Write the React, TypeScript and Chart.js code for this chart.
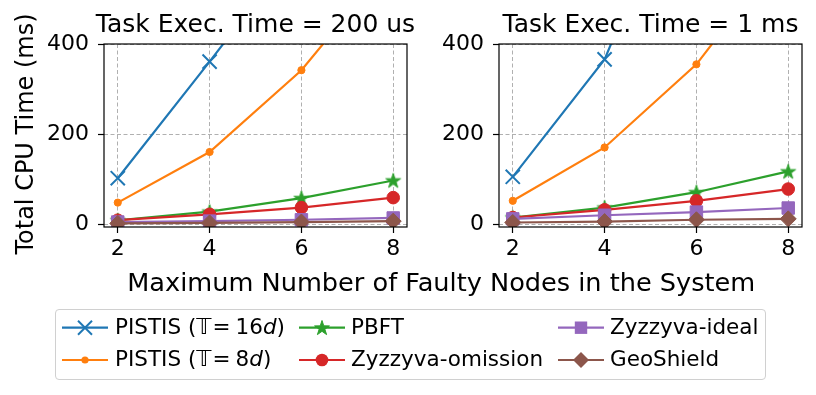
import React, { useEffect, useRef } from 'react';
import { Chart, registerables } from 'chart.js';

Chart.register(...registerables);

// ---------- data ----------
const xValues = [2, 4, 6, 8];
const xTicks = [2, 4, 6, 8];
const yTicks = [0, 200, 400];
const titles = ['Task Exec. Time = 200 us', 'Task Exec. Time = 1 ms'];
const xLabel = 'Maximum Number of Faulty Nodes in the System';
const yLabel = 'Total CPU Time (ms)';
const seriesNames = ['PISTIS (T=16d)', 'PISTIS (T=8d)', 'PBFT', 'Zyzzyva-omission', 'Zyzzyva-ideal', 'GeoShield'];

// Task exec. time = 200 us
const pistis16_200us = [103, 361, 625, 1000];
const pistis8_200us = [49, 161, 342, 588];
const pbft_200us = [10, 29, 59, 98];
const zyzOmission_200us = [10, 23, 38, 60];
const zyzIdeal_200us = [6, 8, 11, 15];
const geoShield_200us = [3, 4, 6, 8];

// Task exec. time = 1 ms
const pistis16_1ms = [106, 366, 850, 1400];
const pistis8_1ms = [53, 171, 355, 619];
const pbft_1ms = [16, 38, 72, 118];
const zyzOmission_1ms = [16, 33, 53, 79];
const zyzIdeal_1ms = [13, 21, 28, 37];
const geoShield_1ms = [5, 7, 11, 13];

const colors = ['#1f77b4', '#ff7f0e', '#2ca02c', '#d62728', '#9467bd', '#8c564b'];

const FONT = "'DejaVu Sans', sans-serif";

function starPoints(cx: number, cy: number, R: number, r: number): [number, number][] {
  const pts: [number, number][] = [];
  for (let i = 0; i < 10; i++) {
    const ang = -Math.PI / 2 + (i * Math.PI) / 5;
    const rad = i % 2 === 0 ? R : r;
    pts.push([cx + rad * Math.cos(ang), cy + rad * Math.sin(ang)]);
  }
  return pts;
}

function makeStar(color: string): HTMLCanvasElement {
  const c = document.createElement('canvas');
  c.width = 18;
  c.height = 18;
  const ctx = c.getContext('2d')!;
  const pts = starPoints(9, 9.6, 7.8, 3.0);
  ctx.beginPath();
  pts.forEach(([x, y], i) => (i === 0 ? ctx.moveTo(x, y) : ctx.lineTo(x, y)));
  ctx.closePath();
  ctx.fillStyle = color;
  ctx.strokeStyle = color;
  ctx.lineWidth = 1;
  ctx.fill();
  ctx.stroke();
  return c;
}

const framePlugin = {
  id: 'frame',
  afterDatasetsDraw(chart: any) {
    const { ctx, chartArea: a } = chart;
    ctx.save();
    ctx.strokeStyle = '#000';
    ctx.lineWidth = 1.2;
    ctx.strokeRect(a.left, a.top, a.right - a.left, a.bottom - a.top);
    ctx.restore();
  },
};

function buildDatasets(series: number[][], star: HTMLCanvasElement) {
  const styles: any[] = ['crossRot', 'circle', star, 'circle', 'rect', 'rectRot'];
  const radii = [10, 3.6, 8, 6.3, 8.8, 8];
  const bw = [2, 1, 1, 1, 1, 1];
  return series.map((vals, i) => ({
    label: seriesNames[i],
    data: xValues.map((x, j) => ({ x, y: vals[j] })),
    borderColor: colors[i],
    backgroundColor: colors[i],
    borderWidth: 2.2,
    pointStyle: styles[i],
    pointRadius: radii[i],
    pointBorderColor: colors[i],
    pointBackgroundColor: colors[i],
    pointBorderWidth: bw[i],
    clip: 0,
    order: 10 - i,
    tension: 0,
  }));
}

function buildOptions(yAxisWidth: number, padRight: number): any {
  return {
    responsive: false,
    animation: false,
    events: [],
    layout: { padding: { top: 44, right: padRight, left: 0, bottom: 0 } },
    plugins: { legend: { display: false }, tooltip: { enabled: false }, title: { display: false } },
    scales: {
      x: {
        type: 'linear',
        min: 1.7,
        max: 8.3,
        afterBuildTicks: (s: any) => {
          s.ticks = xTicks.map((v) => ({ value: v }));
        },
        afterFit: (s: any) => {
          s.height = 73;
        },
        ticks: {
          color: '#000',
          font: { family: FONT, size: 22 },
          padding: 3,
          maxRotation: 0,
          autoSkip: false,
          callback: (v: any) => String(v),
        },
        grid: {
          color: '#b0b0b0',
          lineWidth: 1,
          drawTicks: true,
          tickLength: 6,
          tickColor: '#000',
          tickWidth: 1.2,
          tickBorderDash: [],
        },
        border: { display: false, dash: [4, 2.5] },
      },
      y: {
        type: 'linear',
        min: -5,
        max: 400,
        afterBuildTicks: (s: any) => {
          s.ticks = yTicks.map((v) => ({ value: v }));
        },
        afterFit: (s: any) => {
          s.width = yAxisWidth;
        },
        ticks: {
          color: '#000',
          font: { family: FONT, size: 22 },
          padding: 9,
          autoSkip: false,
          callback: (v: any) => String(v),
        },
        grid: {
          color: '#b0b0b0',
          lineWidth: 1,
          drawTicks: true,
          tickLength: 6,
          tickColor: '#000',
          tickWidth: 1.2,
          tickBorderDash: [],
        },
        border: { display: false, dash: [4, 2.5] },
      },
    },
  };
}

type LegendEntry = { name: React.ReactNode; col: number; row: number; idx: number };

const legendCols = [
  { h0: 62, h1: 108, text: 115 },
  { h0: 299, h1: 345, text: 351 },
  { h0: 558, h1: 604, text: 610 },
];
const legendRows = [327.7, 360];
const legendBaselines = [334, 366.3];

function Marker({ idx, cx, cy }: { idx: number; cx: number; cy: number }) {
  const c = colors[idx];
  switch (idx) {
    case 0:
      return (
        <g stroke={c} strokeWidth={2}>
          <line x1={cx - 7} y1={cy - 7} x2={cx + 7} y2={cy + 7} />
          <line x1={cx - 7} y1={cy + 7} x2={cx + 7} y2={cy - 7} />
        </g>
      );
    case 1:
      return <circle cx={cx} cy={cy} r={3.6} fill={c} />;
    case 2: {
      const pts = starPoints(cx, cy + 0.6, 7.8, 3.0).map((p) => p.join(',')).join(' ');
      return <polygon points={pts} fill={c} stroke={c} strokeWidth={1} />;
    }
    case 3:
      return <circle cx={cx} cy={cy} r={6.3} fill={c} />;
    case 4:
      return <rect x={cx - 6.2} y={cy - 6.2} width={12.4} height={12.4} fill={c} />;
    default:
      return <polygon points={`${cx - 8},${cy} ${cx},${cy - 8} ${cx + 8},${cy} ${cx},${cy + 8}`} fill={c} />;
  }
}

export default function App() {
  const leftRef = useRef<HTMLCanvasElement>(null);
  const rightRef = useRef<HTMLCanvasElement>(null);

  useEffect(() => {
    const star = makeStar(colors[2]);
    const left = new Chart(leftRef.current!, {
      type: 'line',
      data: {
        datasets: buildDatasets(
          [pistis16_200us, pistis8_200us, pbft_200us, zyzOmission_200us, zyzIdeal_200us, geoShield_200us],
          star,
        ) as any,
      },
      options: buildOptions(104, 13),
      plugins: [framePlugin],
    });
    const right = new Chart(rightRef.current!, {
      type: 'line',
      data: {
        datasets: buildDatasets(
          [pistis16_1ms, pistis8_1ms, pbft_1ms, zyzOmission_1ms, zyzIdeal_1ms, geoShield_1ms],
          star,
        ) as any,
      },
      options: buildOptions(89, 14),
      plugins: [framePlugin],
    });
    return () => {
      left.destroy();
      right.destroy();
    };
  }, []);

  const legendEntries: LegendEntry[] = [
    {
      name: (
        <>
          PISTIS (<span style={{ marginRight: 1 }}>𝕋</span>=<span style={{ marginLeft: 5 }}>16<i>d</i></span>)
        </>
      ),
      col: 0,
      row: 0,
      idx: 0,
    },
    {
      name: (
        <>
          PISTIS (<span style={{ marginRight: 1 }}>𝕋</span>=<span style={{ marginLeft: 5 }}>8<i>d</i></span>)
        </>
      ),
      col: 0,
      row: 1,
      idx: 1,
    },
    { name: seriesNames[2], col: 1, row: 0, idx: 2 },
    { name: seriesNames[3], col: 1, row: 1, idx: 3 },
    { name: seriesNames[4], col: 2, row: 0, idx: 4 },
    { name: seriesNames[5], col: 2, row: 1, idx: 5 },
  ];

  const legendFont = 21.5;
  const xLabelFont = 25.6;

  return (
    <div
      style={{
        position: 'absolute',
        left: 0,
        top: 0,
        width: 816,
        height: 395,
        background: '#fff',
        fontFamily: FONT,
        color: '#000',
        overflow: 'hidden',
      }}
    >
      <canvas
        ref={leftRef}
        width={420}
        height={300}
        style={{ position: 'absolute', left: 0, top: 0, width: 420, height: 300 }}
      />
      <canvas
        ref={rightRef}
        width={406}
        height={300}
        style={{ position: 'absolute', left: 410, top: 0, width: 406, height: 300 }}
      />
      {/* titles */}
      {titles.map((t, i) => (
        <div
          key={t}
          style={{
            position: 'absolute',
            left: i === 0 ? 255.5 : 650.5,
            top: 32 - 0.846 * 25,
            transform: 'translateX(-50%)',
            fontSize: 25,
            lineHeight: 1,
            whiteSpace: 'nowrap',
          }}
        >
          {t}
        </div>
      ))}
      {/* x label */}
      <div
        style={{
          position: 'absolute',
          left: 441.3,
          top: 292 - 0.846 * xLabelFont,
          transform: 'translateX(-50%)',
          fontSize: xLabelFont,
          lineHeight: 1,
          whiteSpace: 'nowrap',
        }}
      >
        {xLabel}
      </div>
      {/* y label */}
      <div
        style={{
          position: 'absolute',
          left: 24.7,
          top: 134,
          transform: 'translate(-50%, -50%) rotate(-90deg)',
          fontSize: 24,
          lineHeight: 1,
          whiteSpace: 'nowrap',
        }}
      >
        {yLabel}
      </div>
      {/* legend box */}
      <div
        style={{
          position: 'absolute',
          left: 54.5,
          top: 309,
          width: 711,
          height: 71,
          border: '1px solid #d0d0d0',
          borderRadius: 4,
          boxSizing: 'border-box',
          background: '#fff',
        }}
      />
      <svg width={816} height={395} style={{ position: 'absolute', left: 0, top: 0 }}>
        {legendEntries.map((e) => {
          const c = legendCols[e.col];
          const y = legendRows[e.row];
          return (
            <g key={e.idx}>
              <line x1={c.h0} y1={y} x2={c.h1} y2={y} stroke={colors[e.idx]} strokeWidth={2.2} />
              <Marker idx={e.idx} cx={(c.h0 + c.h1) / 2} cy={y} />
            </g>
          );
        })}
      </svg>
      {legendEntries.map((e) => {
        const c = legendCols[e.col];
        return (
          <div
            key={'t' + e.idx}
            style={{
              position: 'absolute',
              left: c.text,
              top: legendBaselines[e.row] - 0.846 * legendFont,
              fontSize: legendFont,
              lineHeight: 1,
              whiteSpace: 'nowrap',
            }}
          >
            {e.name}
          </div>
        );
      })}
    </div>
  );
}
